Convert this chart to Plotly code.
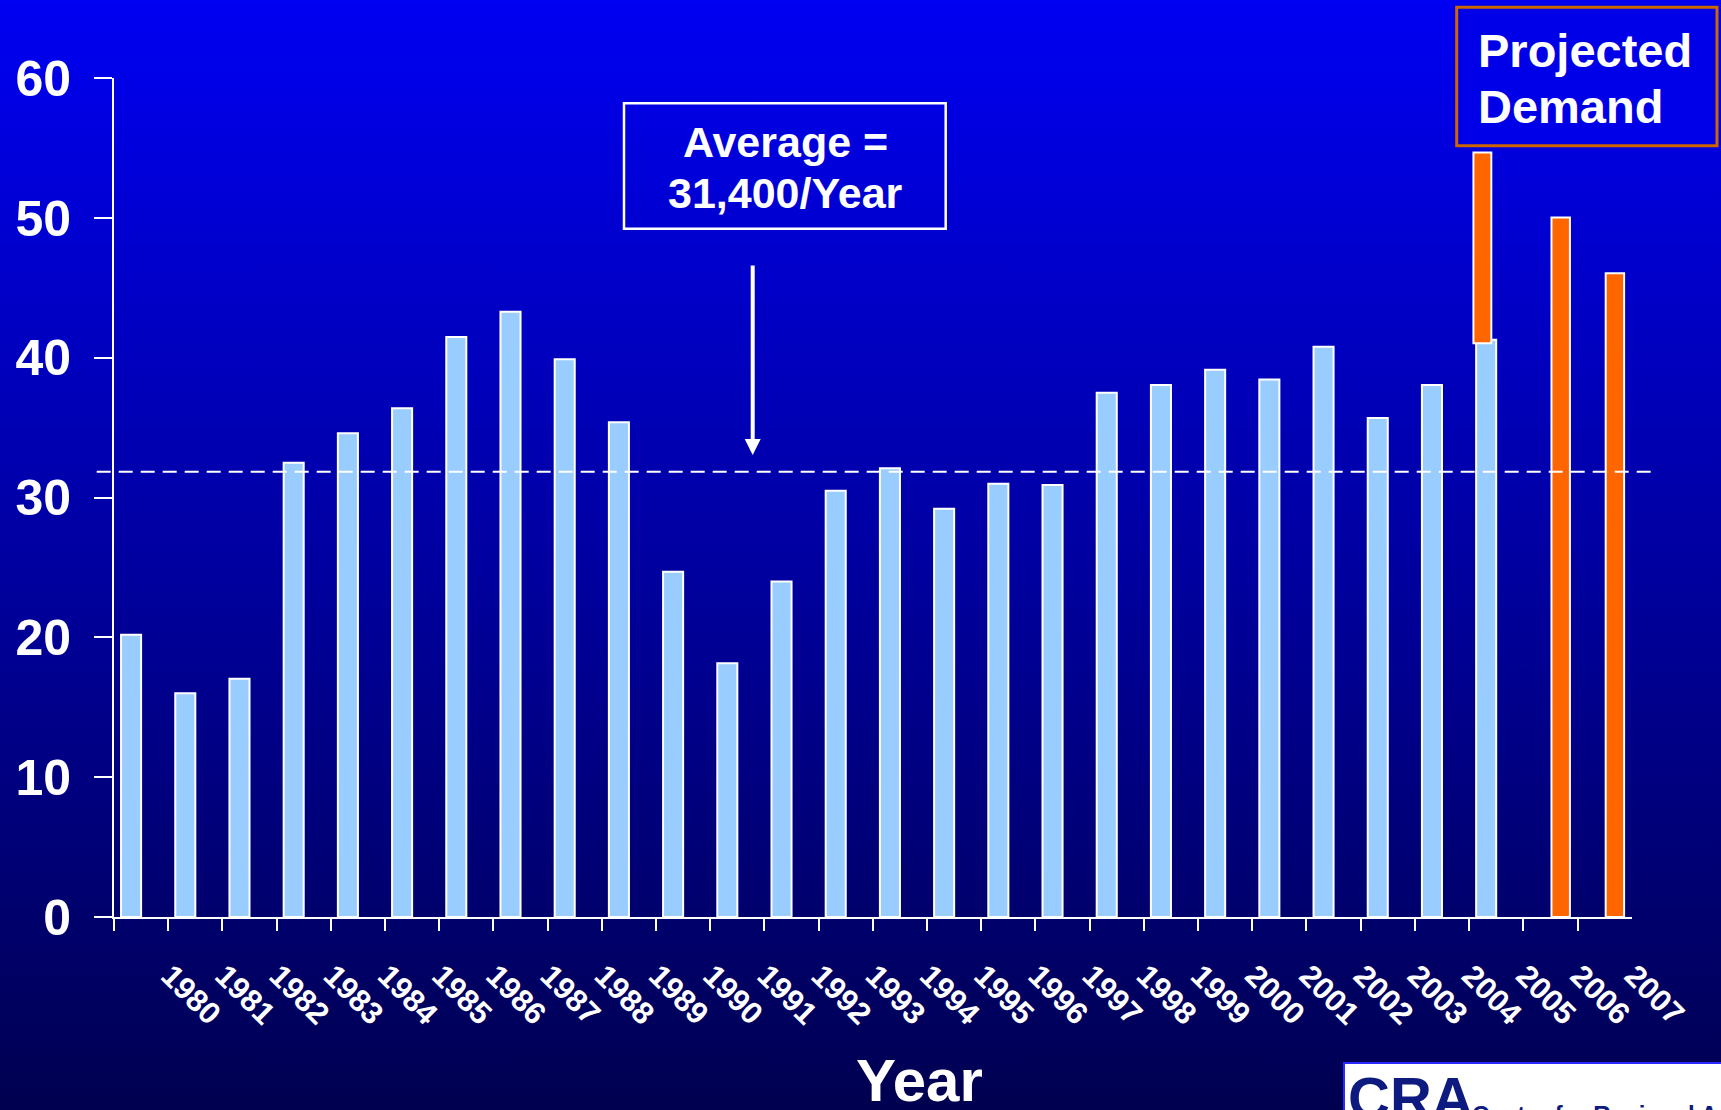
import base64
import plotly.graph_objects as go

W, H = 1721, 1110

# ---------------- data ----------------
categories = [str(y) for y in range(1980, 2008)]
actual_years = [str(y) for y in range(1980, 2006)]
actual_values = [20.2, 16.0, 17.05, 32.5, 34.6, 36.4, 41.5, 43.3, 39.9, 35.4,
                 24.7, 18.15, 24.0, 30.5, 32.1, 29.2, 31.0, 30.9, 37.5, 38.05,
                 39.15, 38.45, 40.8, 35.7, 38.05, 41.3]
proj_years = ["2005", "2006", "2007"]
proj_top = [54.7, 50.05, 46.05]
proj_base = [41.05, 0.0, 0.0]
average_line = 31.85
arrow_tip = 33.05
y_ticks = [0, 10, 20, 30, 40, 50, 60]

# ---------------- helpers ----------------
def px(x):
    return x / W

def py(y):
    return 1 - y / H

x_dom = [px(114), px(1631.7)]
y_dom = [py(917), py(78.3)]

FONT = "Liberation Sans, Arial, sans-serif"

grad_svg = (
    '<svg xmlns="http://www.w3.org/2000/svg" width="100" height="100" preserveAspectRatio="none">'
    '<defs><linearGradient id="g" x1="0" y1="0" x2="0" y2="1">'
    '<stop offset="0" stop-color="#0000F2"/>'
    '<stop offset="1" stop-color="#000050"/>'
    '</linearGradient></defs>'
    '<rect width="100" height="100" fill="url(#g)"/></svg>'
)
grad_uri = "data:image/svg+xml;base64," + base64.b64encode(grad_svg.encode()).decode()

fig = go.Figure()

fig.add_trace(go.Bar(
    x=actual_years, y=actual_values,
    marker=dict(color="#99CCFF", line=dict(color="white", width=2)),
    offset=-0.37, width=0.37, hoverinfo="skip", showlegend=False,
))

proj_heights = [t - b for t, b in zip(proj_top, proj_base)]
fig.add_trace(go.Bar(
    x=proj_years, y=proj_heights, base=proj_base,
    marker=dict(color="#FF6600", line=dict(color="white", width=2)),
    offset=[-0.42, 0.02, 0.02], width=[0.33, 0.34, 0.34],
    hoverinfo="skip", showlegend=False,
))

fig.update_layout(
    width=W, height=H, autosize=False,
    margin=dict(l=0, r=0, t=0, b=0, pad=0, autoexpand=False),
    paper_bgcolor="#0000A0",
    plot_bgcolor="rgba(0,0,0,0)",
    barmode="overlay",
    font=dict(family=FONT, color="white"),
    images=[dict(source=grad_uri, xref="paper", yref="paper", x=0, y=1,
                 sizex=1, sizey=1, sizing="stretch", layer="below",
                 xanchor="left", yanchor="top")],
    xaxis=dict(
        type="category", categoryorder="array", categoryarray=categories,
        range=[-0.5, 27.5], domain=x_dom, automargin=False,
        tickmode="array", tickvals=categories, ticktext=categories,
        tickson="boundaries", ticks="outside", ticklen=12, tickwidth=2,
        tickcolor="white", showline=True, linecolor="white", linewidth=2,
        showgrid=False, zeroline=False,
        tickangle=45, ticklabelstandoff=26, ticklabelshift=29,
        tickfont=dict(family=FONT, size=31, color="white", weight="bold"),
        fixedrange=True,
    ),
    yaxis=dict(
        range=[0, 60], domain=y_dom, automargin=False,
        tickmode="array", tickvals=y_ticks,
        ticks="outside", ticklen=18, tickwidth=2, tickcolor="white",
        showline=True, linecolor="white", linewidth=2,
        showgrid=False, zeroline=False,
        ticklabelstandoff=13,
        tickfont=dict(family=FONT, size=50, color="white", weight="bold"),
        fixedrange=True,
    ),
)

shapes = [
    # average dashed line
    dict(type="line", xref="paper", yref="y", x0=px(96.7), x1=px(1657),
         y0=average_line, y1=average_line,
         line=dict(color="white", width=2, dash="14px,8px")),
    # average box
    dict(type="rect", xref="paper", yref="paper",
         x0=px(624), x1=px(945.7), y0=py(228.7), y1=py(103.3),
         line=dict(color="white", width=2.5), fillcolor="rgba(0,0,0,0)"),
    # projected demand box
    dict(type="rect", xref="paper", yref="paper",
         x0=px(1456.7), x1=px(1717), y0=py(145.7), y1=py(7.3),
         line=dict(color="#CC6600", width=3), fillcolor="rgba(0,0,232,1)",
         layer="below"),
    # logo box
    dict(type="rect", xref="paper", yref="paper",
         x0=px(1344), x1=px(1740), y0=py(1130), y1=py(1063),
         line=dict(color="#2a2aff", width=2), fillcolor="white"),
]
fig.update_layout(shapes=shapes)

ann = []
def text(t, x, y, size, xanchor="center", color="white"):
    ann.append(dict(text=t, xref="paper", yref="paper", x=px(x), y=py(y),
                    xanchor=xanchor, yanchor="middle", showarrow=False,
                    font=dict(family=FONT, size=size, color=color, weight="bold")))

text("Average =", 785, 141.7, 43)
text("31,400/Year", 785, 193.3, 43)
text("Projected", 1476, 50.2, 47, xanchor="left")
text("Demand", 1476, 106.8, 47, xanchor="left")
text("Year", 919, 1080, 60)
text("CRA", 1346, 1097, 58, xanchor="left", color="#0d1a80")
text("Center for Regional Analysis", 1470, 1114, 24, xanchor="left", color="#0d1a80")

ann.append(dict(
    x=px(752.7), y=arrow_tip, xref="paper", yref="y",
    ax=0, ay=-191, axref="pixel", ayref="pixel",
    showarrow=True, arrowhead=2, arrowsize=0.8, arrowwidth=4,
    arrowcolor="white", text="",
))
fig.update_layout(annotations=ann)

fig.write_html("out.html", config={"displayModeBar": False})
